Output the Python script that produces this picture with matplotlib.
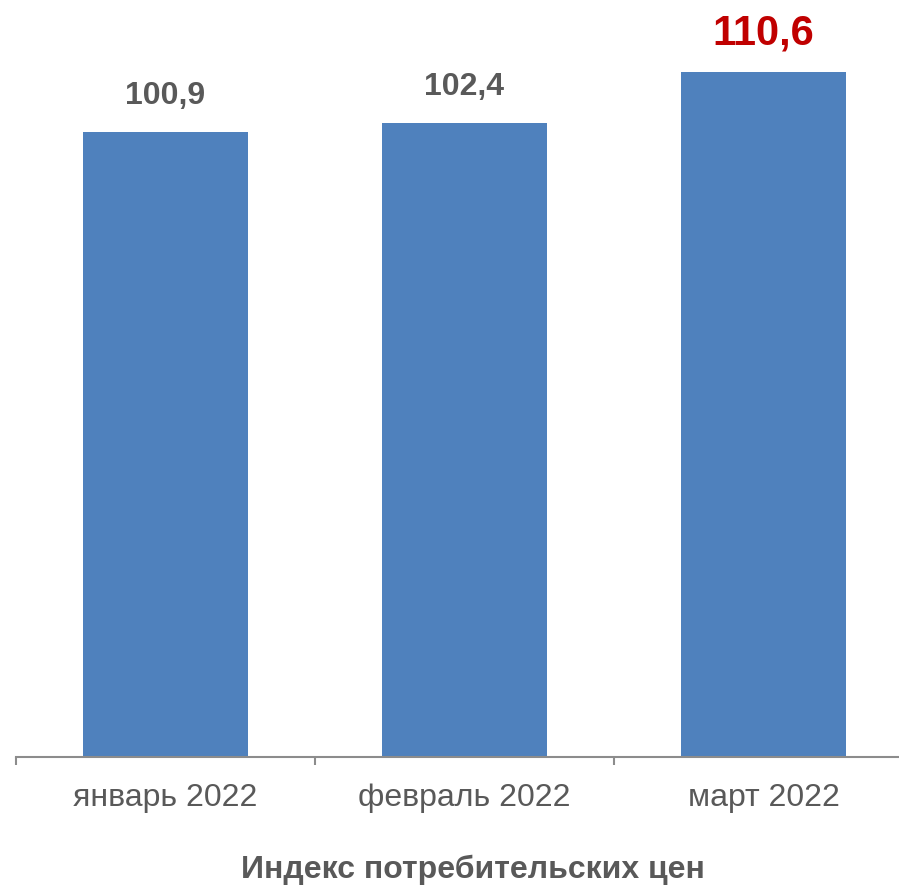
import matplotlib.pyplot as plt

plt.rcParams['font.family'] = ['Liberation Sans', 'DejaVu Sans']

# data
months = ['январь 2022', 'февраль 2022', 'март 2022']
cpi = [100.9, 102.4, 110.6]
value_labels = ['100,9', '102,4', '110,6']
title = 'Индекс потребительских цен'

W, H = 899, 886
fig = plt.figure(figsize=(W / 100, H / 100), dpi=100)

# axes: left edge at x=16px, baseline at y=757px from top, 299px per category
left_px, base_px, cat_px = 16, 757, 299
ax = fig.add_axes([left_px / W, (H - base_px) / H, (W - left_px) / W, base_px / H])

x = range(len(months))
ax.bar(x, cpi, width=0.55, color='#4F81BD', zorder=2)

grey = '#595959'
for i, (v, lab) in enumerate(zip(cpi, value_labels)):
    last = i == len(cpi) - 1
    ax.annotate(lab, (i, v), xytext=(0, 28 if last else 26), textcoords='offset points',
                ha='center', va='center', fontweight='bold',
                fontsize=30 if last else 23,
                color='#C00000' if last else grey)

for s in ['top', 'right', 'left']:
    ax.spines[s].set_visible(False)
ax.spines['bottom'].set_color('#8C8C8C')
ax.spines['bottom'].set_linewidth(1.5)
ax.set_yticks([])

ax.set_xticks([-0.5, 0.5, 1.5])
ax.set_xticklabels([])
ax.tick_params(axis='x', which='major', length=6, width=1.5, color='#8C8C8C')
ax.set_xticks(list(x), minor=True)
ax.set_xticklabels(months, minor=True, fontsize=23, color=grey)
ax.tick_params(axis='x', which='minor', length=0, pad=19)

ax.set_xlim(-0.5, (W - left_px) / cat_px - 0.5)
ax.set_ylim(0, base_px / 6.194)

fig.text(473 / W, 1 - 870 / H, title, ha='center', va='center',
         fontsize=23, fontweight='bold', color=grey)

fig.savefig('out.png', dpi=100)
